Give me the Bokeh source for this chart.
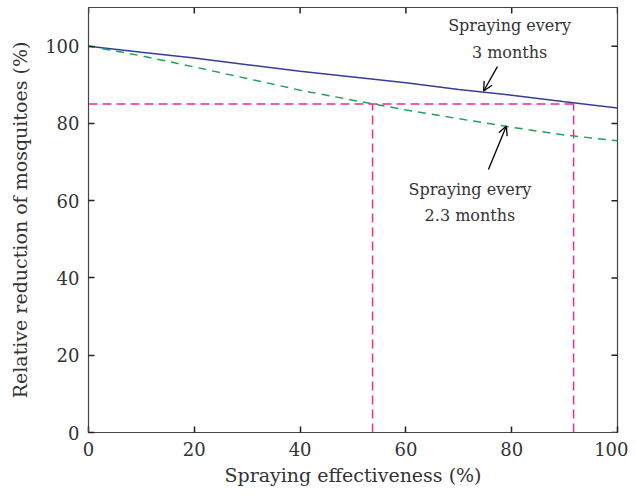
from bokeh.plotting import figure
from bokeh.models import Range1d, Arrow, OpenHead, Label
from bokeh.embed import file_html
from bokeh.resources import INLINE

# data
effect = [0, 10, 20, 30, 40, 50, 60, 70, 80, 90, 100]
every3 = [100, 98.4, 96.9, 95.2, 93.5, 92.0, 90.5, 88.8, 87.3, 85.6, 84.0]
every23 = [100, 97.5, 94.6, 91.6, 88.6, 86.0, 83.5, 81.2, 79.0, 77.0, 75.5]
target = 85
cross23 = 53.7
cross3 = 91.7
x_ticks = [0, 20, 40, 60, 80, 100]
y_ticks = [0, 20, 40, 60, 80, 100]
X0, X1, Y0, Y1 = 0, 100, 0, 110

FONT = "DejaVu Serif"
W, H = 628, 491
BL, BR, BT, BB = 88, 11, 7, 59
TICK = 6

p = figure(width=W, height=H, output_backend="svg", toolbar_location=None,
           x_range=Range1d(X0, X1), y_range=Range1d(Y0, Y1),
           min_border_left=BL, min_border_right=BR, min_border_top=BT, min_border_bottom=BB)
p.grid.visible = False
p.outline_line_color = "#444444"
p.outline_line_width = 1.2

for ax in (p.xaxis[0], p.yaxis[0]):
    ax.major_tick_in = TICK
    ax.major_tick_out = 0
    ax.minor_tick_line_color = None
    ax.axis_line_color = "#444444"
    ax.major_tick_line_color = "#222222"
    ax.major_tick_line_width = 1.5
    ax.major_label_text_font = FONT
    ax.major_label_text_font_size = "18px"
    ax.major_label_text_color = "#333333"
    ax.axis_label_text_font = FONT
    ax.axis_label_text_font_size = "19px"
    ax.axis_label_text_font_style = "normal"
    ax.axis_label_text_color = "#333333"
p.xaxis.ticker = x_ticks
p.yaxis.ticker = y_ticks
p.xaxis.axis_label = "Spraying effectiveness (%)"
p.yaxis.axis_label = "Relative reduction of mosquitoes (%)"
p.xaxis.major_label_standoff = 9
p.yaxis.major_label_standoff = 9
p.xaxis.axis_label_standoff = 5
p.yaxis.axis_label_standoff = 11

# mirrored inward ticks on top and right edges
fw = W - BL - BR
fh = H - BT - BB
ty = TICK * (Y1 - Y0) / fh
tx = TICK * (X1 - X0) / fw
p.segment(x0=x_ticks, y0=[Y1] * len(x_ticks), x1=x_ticks, y1=[Y1 - ty] * len(x_ticks),
          line_color="#222222", line_width=1.5)
p.segment(x0=[X1] * len(y_ticks), y0=y_ticks, x1=[X1 - tx] * len(y_ticks), y1=y_ticks,
          line_color="#222222", line_width=1.5)

mag = "#ec2d8c"
p.line([0, cross3], [target, target], line_color=mag, line_width=1.5, line_dash="9 5")
p.line([cross23, cross23], [0, target], line_color=mag, line_width=1.5, line_dash="9 5")
p.line([cross3, cross3], [0, target], line_color=mag, line_width=1.5, line_dash="9 5")

p.line(effect, every3, line_color="#363c9c", line_width=1.5)
p.line(effect, every23, line_color="#1fa35a", line_width=1.5, line_dash="8 6")

p.add_layout(Arrow(end=OpenHead(size=9, line_width=1.3, line_color="black"),
                   x_start=77.3, y_start=94.7, x_end=74.7, y_end=88.4,
                   line_width=1.3, line_color="black"))
p.add_layout(Arrow(end=OpenHead(size=9, line_width=1.3, line_color="black"),
                   x_start=75.6, y_start=68.1, x_end=79.0, y_end=79.3,
                   line_width=1.3, line_color="black"))

for txt, xx, yy in [("Spraying every", 79.6, 105.3), ("3 months", 79.6, 98.4),
                    ("Spraying every", 72.1, 62.9), ("2.3 months", 72.1, 56.2)]:
    p.add_layout(Label(x=xx, y=yy, text=txt, text_font=FONT, text_font_size="16px",
                       text_color="#333333", text_align="center", text_baseline="middle"))

open("out.html", "w").write(file_html(p, INLINE))
